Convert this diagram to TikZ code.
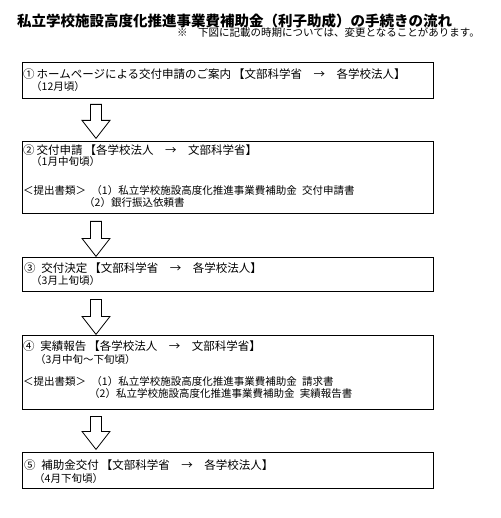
\documentclass[tikz,border=0pt]{standalone}
\usepackage{fontspec}
\setmainfont{Noto Sans CJK JP}
\usetikzlibrary{calc}
\begin{document}
\begin{tikzpicture}[x=1pt,y=-1pt,
  box/.style={draw, line width=1.4pt, inner sep=0pt, anchor=north west, minimum width=411pt},
  hd/.style={anchor=west, inner sep=0pt, font=\fontsize{11.5}{13}\selectfont},
  sm/.style={anchor=west, inner sep=0pt, font=\fontsize{10.5}{12}\selectfont},
  barrow/.style={draw, line width=0.8pt, fill=white, line join=miter},
  pics/downarr/.style={code={
    \draw[barrow] (-5.5,0) -- (5.5,0) -- (5.5,#1-18) -- (14,#1-18) -- (0,#1) -- (-14,#1-18) -- (-5.5,#1-18) -- cycle;}}]
\useasboundingbox (0,0) rectangle (500,518);
% title
\node[anchor=west, inner sep=0pt, font=\fontsize{14.5}{16}\selectfont\bfseries] (title) at (17,21)
  {私立学校施設高度化推進事業費補助金（利子助成）の手続きの流れ};
\node[anchor=east, inner sep=0pt, font=\fontsize{10.5}{12}\selectfont] (note) at (480,33)
  {※\quad 下図に記載の時期については、変更となることがあります。};
% boxes
\node[box, minimum height=36pt] (b1) at (22,62) {};
\node[box, minimum height=72pt] (b2) at (22,141) {};
\node[box, minimum height=34pt] (b3) at (22,257) {};
\node[box, minimum height=74pt] (b4) at (22,335) {};
\node[box, minimum height=36pt] (b5) at (22,452) {};
% box 1 text
\node[hd] (t11) at (23,74) {①\,ホームページによる交付申請のご案内\,【文部科学省\quad →\quad 各学校法人】};
\node[sm] (t12) at (31,87) {（12月頃）};
% box 2
\node[hd] (t21) at (23,150) {②\,交付申請\,【各学校法人\quad →\quad 文部科学省】};
\node[sm] (t22) at (31,162) {（1月中旬頃）};
\node[sm] (t23) at (23,191) {＜提出書類＞\enspace（1）私立学校施設高度化推進事業費補助金\enspace 交付申請書};
\node[sm] (t24) at (84,203) {（2）銀行振込依頼書};
% box 3
\node[hd] (t31) at (24,268) {③\enspace 交付決定\,【文部科学省\quad →\quad 各学校法人】};
\node[sm] (t32) at (31,281) {（3月上旬頃）};
% box 4
\node[hd] (t41) at (23,346) {④\enspace 実績報告\,【各学校法人\quad →\quad 文部科学省】};
\node[sm] (t42) at (35,360) {（3月中旬～下旬頃）};
\node[sm] (t43) at (23,382) {＜提出書類＞\enspace（1）私立学校施設高度化推進事業費補助金\enspace 請求書};
\node[sm] (t44) at (89,394) {（2）私立学校施設高度化推進事業費補助金\enspace 実績報告書};
% box 5
\node[hd] (t51) at (24,465) {⑤\enspace 補助金交付\,【文部科学省\quad →\quad 各学校法人】};
\node[sm] (t52) at (34,479) {（4月下旬頃）};
% arrows
\pic at ($(b1.south west)+(74,5)$) {downarr=34};
\pic at ($(b2.south west)+(74,7)$) {downarr=35};
\pic at ($(b3.south west)+(74,7)$) {downarr=35};
\pic at ($(b4.south west)+(74,6)$) {downarr=33};
\end{tikzpicture}
\end{document}
